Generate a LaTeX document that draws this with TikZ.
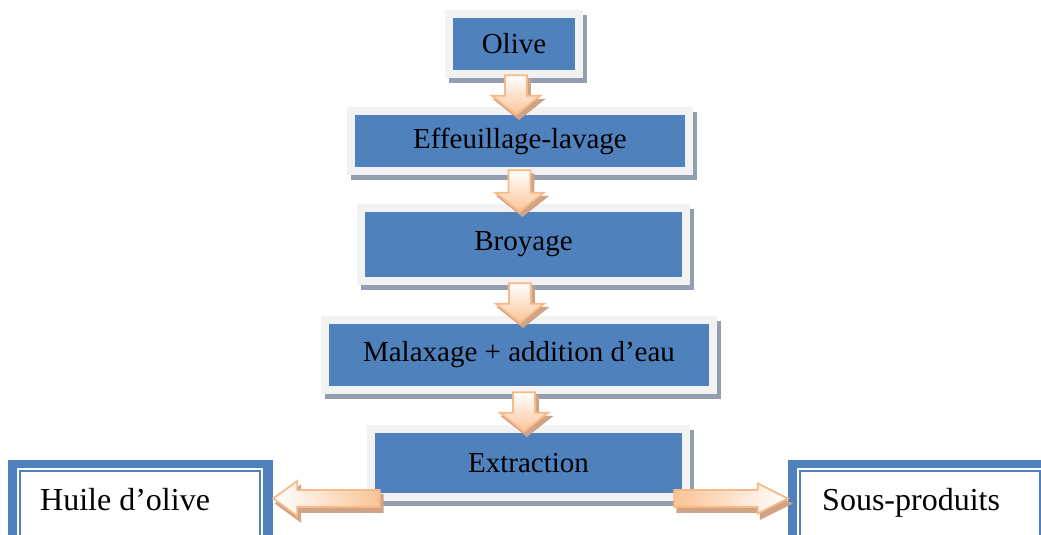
\documentclass[tikz,border=0pt]{standalone}
\usepackage{fontspec}
\setmainfont{Liberation Serif}
\usetikzlibrary{calc}
\definecolor{boxblue}{HTML}{4F81BD}
\definecolor{framegray}{HTML}{F2F2F2}
\definecolor{shadowgray}{HTML}{939FB0}
\definecolor{arrborder}{HTML}{F9B886}
\definecolor{arrpeach}{HTML}{FAC496}
\definecolor{arrshadow}{HTML}{CFA385}
\newcommand\flowdown[2]{%
  \begin{scope}[transform canvas={shift={(3pt,-4pt)}}]
    \path[arrshadowstyle] let \p1=(#1), \p2=(#2) in
      (\x1-11pt,\y1) -- (\x1+11pt,\y1) -- (\x1+11pt,\y2+19pt) -- (\x1+24pt,\y2+19pt)
      -- (\x1,\y2) -- (\x1-24pt,\y2+19pt) -- (\x1-11pt,\y2+19pt) -- cycle;
  \end{scope}
  \path[arrbody, top color=white, bottom color=arrpeach] let \p1=(#1), \p2=(#2) in
      (\x1-11pt,\y1) -- (\x1+11pt,\y1) -- (\x1+11pt,\y2+19pt) -- (\x1+24pt,\y2+19pt)
      -- (\x1,\y2) -- (\x1-24pt,\y2+19pt) -- (\x1-11pt,\y2+19pt) -- cycle;
}
\newcommand\flowleft[2]{%
  \begin{scope}[transform canvas={shift={(3pt,-5pt)}}]
    \path[arrshadowstyle] let \p1=(#1), \p2=(#2) in
      (\x1,\y1+8.5pt) -- (\x2+24pt,\y1+8.5pt) -- (\x2+24pt,\y1+17.5pt) -- (\x2,\y1)
      -- (\x2+24pt,\y1-17.5pt) -- (\x2+24pt,\y1-8.5pt) -- (\x1,\y1-8.5pt) -- cycle;
  \end{scope}
  \path[arrbody, left color=white, right color=arrpeach] let \p1=(#1), \p2=(#2) in
      (\x1,\y1+8.5pt) -- (\x2+24pt,\y1+8.5pt) -- (\x2+24pt,\y1+17.5pt) -- (\x2,\y1)
      -- (\x2+24pt,\y1-17.5pt) -- (\x2+24pt,\y1-8.5pt) -- (\x1,\y1-8.5pt) -- cycle;
}
\newcommand\flowright[2]{%
  \begin{scope}[transform canvas={shift={(3pt,-5pt)}}]
    \path[arrshadowstyle] let \p1=(#1), \p2=(#2) in
      (\x1,\y1+8.5pt) -- (\x2-30pt,\y1+8.5pt) -- (\x2-30pt,\y1+15pt) -- (\x2,\y1)
      -- (\x2-30pt,\y1-15pt) -- (\x2-30pt,\y1-8.5pt) -- (\x1,\y1-8.5pt) -- cycle;
  \end{scope}
  \path[arrbody, left color=arrpeach, right color=white] let \p1=(#1), \p2=(#2) in
      (\x1,\y1+8.5pt) -- (\x2-30pt,\y1+8.5pt) -- (\x2-30pt,\y1+15pt) -- (\x2,\y1)
      -- (\x2-30pt,\y1-15pt) -- (\x2-30pt,\y1-8.5pt) -- (\x1,\y1-8.5pt) -- cycle;
}
\begin{document}
\begin{tikzpicture}[x=1pt,y=-1pt,
  stepbox/.style={rectangle, inner sep=0pt, fill=boxblue, text=black,
    font=\fontsize{29}{34}\selectfont,
    preaction={fill=shadowgray, draw=shadowgray, line width=16pt,
      transform canvas={shift={(4pt,-5pt)}}},
    preaction={fill=framegray, draw=framegray, line width=16pt}},
  sidebox/.style={rectangle, inner sep=0pt, fill=boxblue, minimum width=265pt, minimum height=90pt},
  sidetext/.style={inner sep=0pt, anchor=base west, font=\fontsize{32}{38}\selectfont},
  arrbody/.style={draw=arrborder, line width=1.8pt, line join=miter},
  arrshadowstyle/.style={fill=arrshadow, draw=arrshadow, line width=1.8pt}]
\useasboundingbox (0,0) rectangle (1041,535);
\clip (0,0) rectangle (1041,535);

% side boxes
\node[sidebox] (hbox) at (140.5,505) {};
\fill[white] ([shift={(9pt,-8pt)}]hbox.north west) rectangle ([shift={(-10pt,0pt)}]hbox.south east);
\draw[boxblue, line width=1.6pt] ([shift={(12pt,-11pt)}]hbox.north west) rectangle ([shift={(-13pt,6pt)}]hbox.south east);
\node[sidebox] (sbox) at (920.5,505) {};
\fill[white] ([shift={(9pt,-8pt)}]sbox.north west) rectangle ([shift={(-10pt,0pt)}]sbox.south east);
\draw[boxblue, line width=1.6pt] ([shift={(12pt,-11pt)}]sbox.north west) rectangle ([shift={(-13pt,6pt)}]sbox.south east);
\node[sidetext] (huile) at (40,510) {Huile d’olive};
\node[sidetext] (sous) at (822,510) {Sous-produits};

% steps
\node[stepbox, minimum width=122pt, minimum height=52pt] (olive) at (514,44) {Olive};
\node[stepbox, minimum width=330pt, minimum height=52pt] (eff) at (520,141) {Effeuillage-lavage};
\node[stepbox, minimum width=317pt, minimum height=65pt] (broy) at (523.5,244.5) {Broyage};
\node[stepbox, minimum width=380pt, minimum height=62pt] (mala) at (519,355) {Malaxage + addition d’eau};
\node[stepbox, minimum width=307pt, minimum height=60pt] (extr) at (528.5,463) {Extraction};

% connectors
\coordinate (a1s) at ([shift={(2pt,-5pt)}]olive.south);
\coordinate (a1e) at (a1s |- eff.north);
\coordinate (a2s) at ([shift={(-0.5pt,-3pt)}]eff.south);
\coordinate (a2e) at (a2s |- broy.north);
\coordinate (a3s) at ([shift={(-3.5pt,-6pt)}]broy.south);
\coordinate (a3e) at ([yshift=1pt]a3s |- mala.north);
\coordinate (a4s) at ([shift={(5pt,-6pt)}]mala.south);
\coordinate (a4e) at ([yshift=1pt]a4s |- extr.north);
\flowdown{a1s}{a1e}
\flowdown{a2s}{a2e}
\flowdown{a3s}{a3e}
\flowdown{a4s}{a4e}

\coordinate (ls) at ([shift={(5pt,-35.5pt)}]extr.west);
\coordinate (le) at (ls -| hbox.east);
\coordinate (rs) at ([shift={(-8pt,-35.5pt)}]extr.east);
\coordinate (re) at (rs -| sbox.west);
\flowleft{ls}{le}
\flowright{rs}{re}
\end{tikzpicture}
\end{document}
